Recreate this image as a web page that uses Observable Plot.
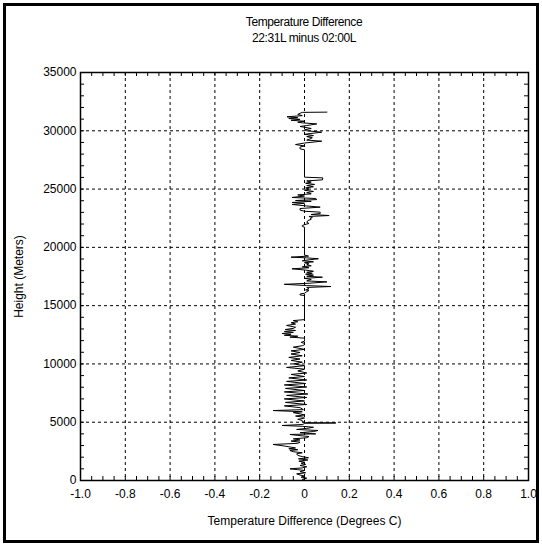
<!DOCTYPE html>
<html><head><meta charset="utf-8">
<script src="https://cdn.jsdelivr.net/npm/d3@7"></script>
<script src="https://cdn.jsdelivr.net/npm/@observablehq/plot@0.6"></script>
<style>
body{margin:0;background:#fff;font-family:"Liberation Sans",Arial,sans-serif;}
#frame{position:absolute;left:3px;top:3px;width:530px;height:534px;border:3px solid #000;background:#fff;overflow:visible;}
#title{padding-top:8px;margin-left:74px;margin-right:8px;text-align:center;font-size:12px;line-height:16px;color:#000;letter-spacing:-0.4px;}
#chart svg{display:block;}
</style></head><body>
<div id="frame"><div id="title"><div id="t1"></div><div id="t2"></div></div><div id="chart"></div></div>
<script>
// Surface to 6 km
const heightA = [0,100,200,290,380,470,570,660,760,860,930,1000,1080,1180,1290,1380,1480,1570,1660,1760,
  1860,1950,2050,2150,2290,2380,2470,2570,2640,2720,2790,2860,2960,3090,3190,3290,3380,3480,3570,3670,
  3770,3870,3950,4000,4100,4200,4290,4380,4470,4570,4650,4720,4800,4880,4910,4935,4960,5050,5150,5250,
  5350,5430,5530,5620,5720,5820,5900,6000,6080];
const diffA = [0.00,-0.01,0.01,-0.015,0.00,-0.02,-0.035,0.005,-0.02,0.00,-0.03,-0.065,-0.01,0.01,-0.02,0.005,-0.015,0.00,-0.025,0.015,
  -0.027,0.018,-0.01,-0.03,-0.035,-0.01,-0.05,-0.065,-0.03,-0.07,-0.04,-0.06,-0.09,-0.14,-0.03,-0.02,-0.06,-0.02,-0.05,0.01,
  0.02,-0.03,-0.065,0.05,-0.02,0.04,0.06,-0.035,0.01,0.04,-0.01,-0.10,-0.01,0.00,0.00,0.14,0.005,-0.01,-0.01,-0.03,
  0.00,-0.005,-0.04,0.00,-0.02,-0.05,-0.01,-0.14,-0.005];
// 6 km to 11.6 km
const heightB = [6250,6400,6520,6700,6820,7000,7120,7300,7420,7600,7720,7900,8020,8200,8320,8500,8620,8800,8920,9100,
  9220,9400,9550,9700,9850,10000,10150,10300,10420,10560,10700,10850,10980,11120,11250,11440,11560,11640];
const diffB = [-0.02,-0.09,0.01,-0.085,0.00,-0.09,0.01,-0.08,0.015,-0.09,0.00,-0.085,0.01,-0.09,0.005,-0.08,0.01,-0.07,0.00,-0.06,
  0.01,-0.03,0.00,-0.08,0.00,-0.05,-0.01,-0.06,-0.02,-0.07,-0.01,-0.06,-0.02,-0.06,0.00,-0.05,-0.01,0.00];
// 11.7 km to 16 km
const heightC = [11760,11850,11950,12100,12210,12300,12380,12460,12540,12610,12700,12780,12870,12950,13050,13150,13300,13420,13530,13620,
  13720,13800,15870,15920,16000,16060];
const diffC = [0.00,-0.015,0.00,0.00,0.00,-0.065,-0.03,-0.09,-0.06,-0.10,-0.05,-0.09,-0.04,-0.086,-0.05,-0.04,-0.08,-0.04,-0.06,-0.03,
  -0.05,0.00,0.00,-0.02,-0.02,0.00];
// 16 km to 19.5 km
const heightD = [16200,16300,16350,16440,16560,16640,16720,16830,16920,17040,17120,17250,17340,17440,17520,17620,17700,17780,17860,17950,
  18050,18160,18250,18330,18420,18500,18590,18680,18760,18850,18930,19020,19100,19160,19250,19330,19440];
const diffD = [0.01,0.02,0.005,0.02,0.01,0.118,0.01,-0.09,0.02,0.10,0.01,0.03,0.00,0.08,0.01,0.04,0.005,0.035,0.01,0.04,
  0.005,-0.056,0.02,-0.01,0.03,0.01,0.02,0.00,0.04,-0.01,0.02,0.062,0.01,-0.06,0.018,0.00,0.00];
// 21.7 km to 26 km
const heightE = [21730,21800,21870,21950,22050,22150,22300,22400,22470,22560,22650,22730,22820,22900,23020,23100,23200,23330,23450,23550,
  23680,23780,23850,23950,24020,24100,24190,24280,24400,24500,24590,24700,24800,24900,25000,25100,25200,25300,25400,25500,
  25600,25700,25790,25960,26020];
const diffE = [0.00,-0.01,-0.01,0.00,0.02,0.01,0.015,0.03,0.025,0.035,0.02,0.11,0.03,0.07,0.07,0.00,-0.02,-0.02,0.07,0.01,
  -0.055,0.00,-0.055,0.03,-0.04,0.055,0.05,-0.056,0.00,-0.03,0.03,0.01,0.04,0.00,0.02,0.005,0.04,0.01,0.045,0.005,
  0.03,0.01,0.08,0.082,0.00];
// 28.4 km to top
const heightF = [28370,28450,28600,28700,28820,28950,29110,29200,29310,29400,29500,29590,29700,29880,30000,30080,30200,30370,30450,30590,
  30680,30740,30820,30900,30980,31050,31120,31200,31300,31400,31500,31580,31600];
const diffF = [0.00,-0.02,-0.02,0.00,-0.04,0.00,0.077,0.01,0.025,0.035,0.01,0.04,0.00,0.077,0.01,0.00,0.03,-0.02,0.01,0.055,
  -0.01,-0.03,0.00,-0.06,-0.02,-0.07,-0.03,-0.078,-0.01,-0.03,-0.02,-0.01,0.10];

const xTicks = [-1.0,-0.8,-0.6,-0.4,-0.2,0,0.2,0.4,0.6,0.8,1.0];
const xTickLabels = ["-1.0","-0.8","-0.6","-0.4","-0.2","0","0.2","0.4","0.6","0.8","1.0"];
const yTicks = [0,5000,10000,15000,20000,25000,30000,35000];
const yTickLabels = ["0","5000","10000","15000","20000","25000","30000","35000"];
const title = "Temperature Difference";
const subtitle = "22:31L minus 02:00L";
const xLabel = "Temperature Difference (Degrees C)";
const yLabel = "Height (Meters)";

document.getElementById("t1").textContent = title;
document.getElementById("t2").textContent = subtitle;

const heights = [].concat(heightA, heightB, heightC, heightD, heightE, heightF);
const diffs = [].concat(diffA, diffB, diffC, diffD, diffE, diffF);
const data = heights.map((h, i) => ({h, t: diffs[i]}));
const xMinor = d3.range(-1, 1.0001, 0.05);
const yMinor = d3.range(0, 35001, 1000);

const W = 530, H = 494, mL = 74, mR = 8, mT = 26, mB = 60;
const innerW = W - mL - mR, innerH = H - mT - mB;
const grid = {stroke: "#000", strokeOpacity: 1, strokeDasharray: "3,3", strokeWidth: 1};

const chart = Plot.plot({
  width: W, height: H, marginLeft: mL, marginRight: mR, marginTop: mT, marginBottom: mB,
  style: {fontFamily: "'Liberation Sans', Arial, sans-serif", fontSize: "12px", color: "#000", background: "#fff", overflow: "visible"},
  x: {domain: [-1, 1]},
  y: {domain: [0, 35000]},
  marks: [
    Plot.gridX(xTicks.slice(1, -1), grid),
    Plot.gridY(yTicks.slice(1, -1), grid),
    Plot.ruleX(xMinor, {stroke: "#000", insetTop: innerH - 4}),
    Plot.ruleX(xMinor, {stroke: "#000", insetBottom: innerH - 4}),
    Plot.ruleY(yMinor, {stroke: "#000", insetRight: innerW - 4}),
    Plot.ruleY(yMinor, {stroke: "#000", insetLeft: innerW - 4}),
    Plot.line(data, {x: "t", y: "h", stroke: "#000", strokeWidth: 1}),
    Plot.frame({stroke: "#000", strokeWidth: 1.5}),
    Plot.axisX({ticks: xTicks, tickFormat: d => xTickLabels[xTicks.indexOf(d)], tickSize: 0, tickPadding: 9,
      label: xLabel, labelAnchor: "center", labelArrow: "none", labelOffset: 44}),
    Plot.axisY({ticks: yTicks, tickFormat: d => yTickLabels[yTicks.indexOf(d)], tickSize: 0, tickPadding: 4,
      label: yLabel, labelAnchor: "center", labelArrow: "none", labelOffset: 66})
  ]
});
document.getElementById("chart").appendChild(chart);
</script>
</body></html>
